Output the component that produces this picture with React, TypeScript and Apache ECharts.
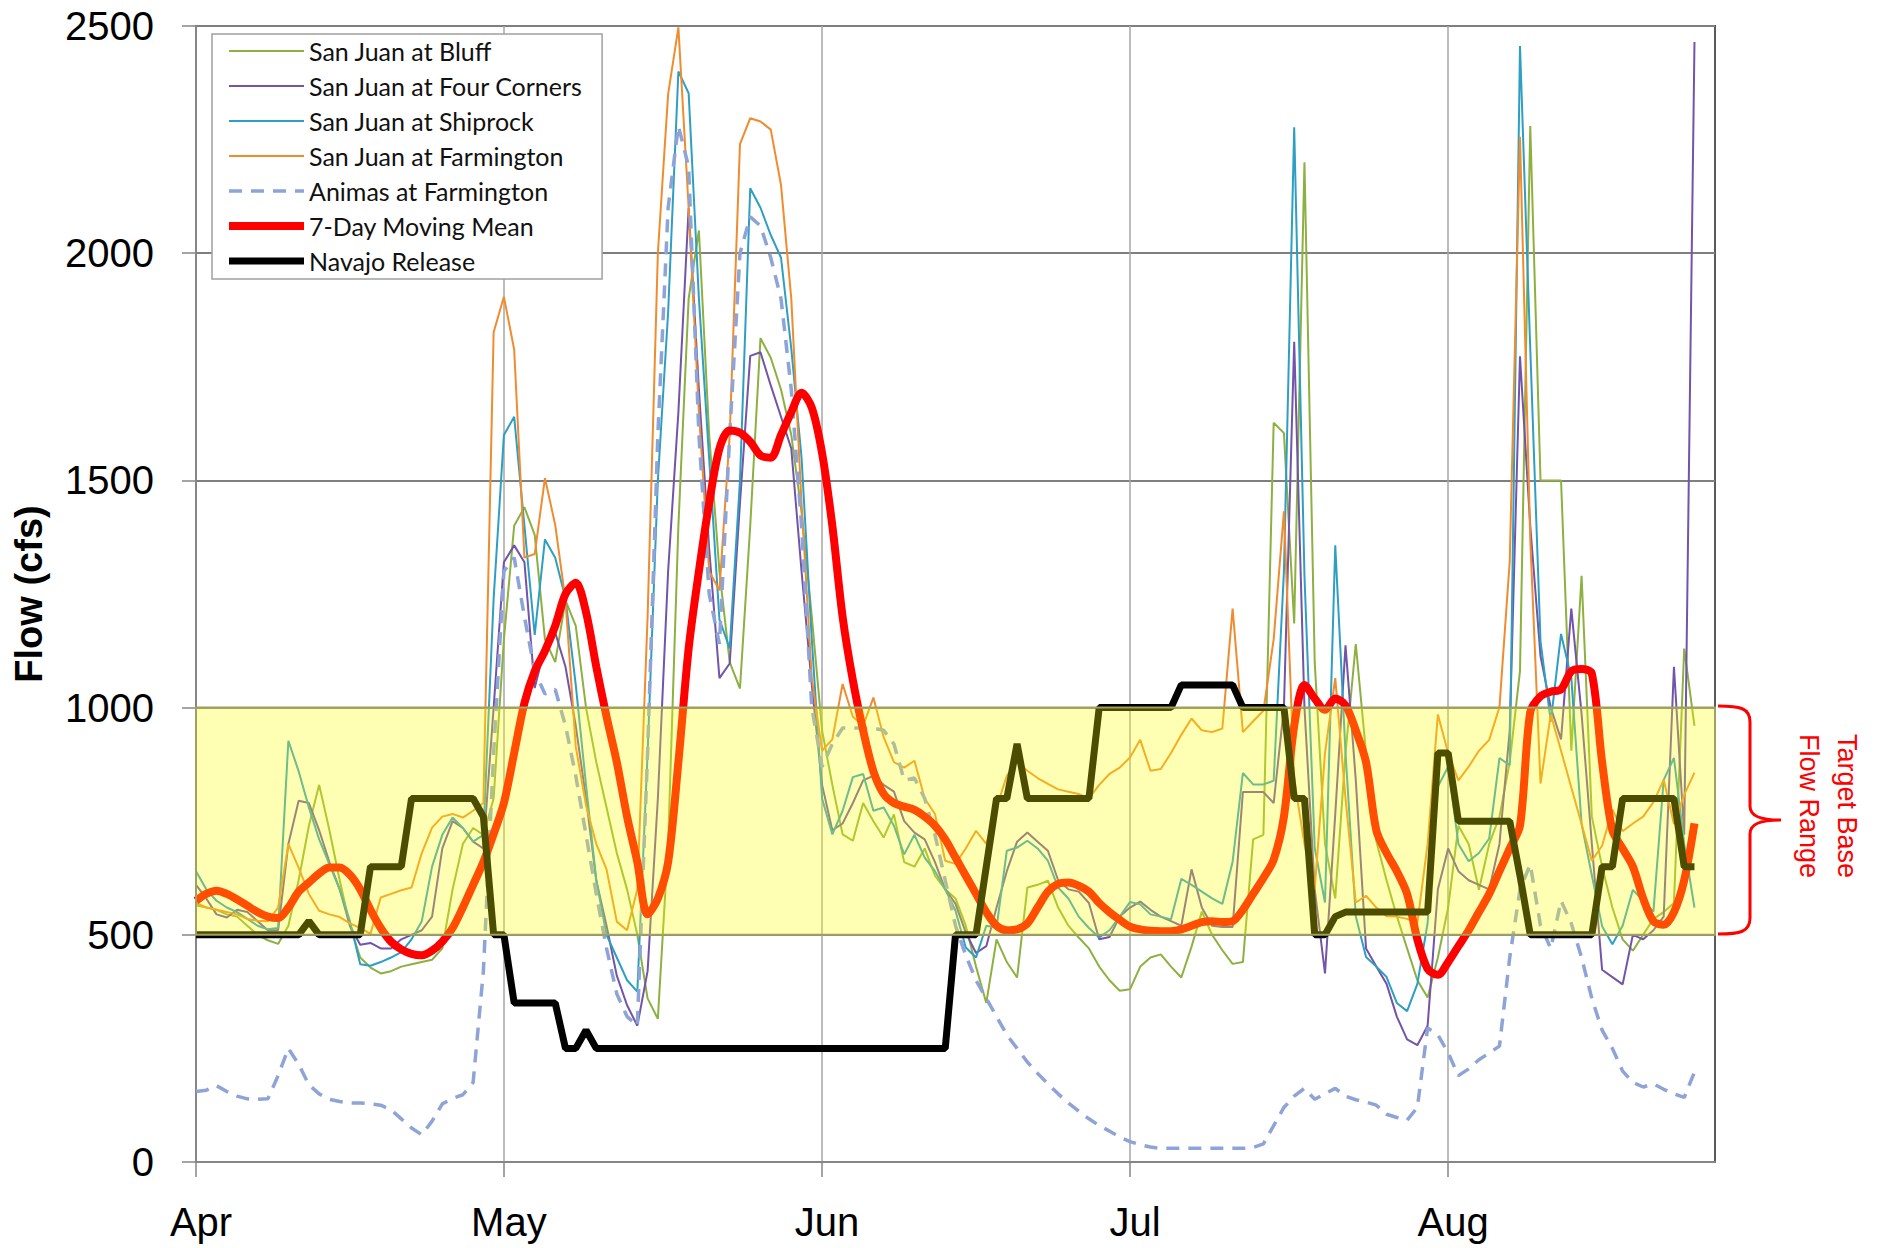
import React, { useEffect, useRef } from "react";
import * as echarts from "echarts";

// ---------- axis / category definitions ----------
const MONTHS = ["Apr", "May", "Jun", "Jul", "Aug"];
const DAYS_SHOWN = [30, 31, 30, 31, 27];
const Y_MIN = 0;
const Y_MAX = 2500;
const Y_STEP = 500;
const TARGET_LOW = 500;
const TARGET_HIGH = 1000;

// ---------- daily flows (cfs), Apr 1 onward ----------
const sanJuanBluff = [
  565, 560, 555, 545, 540, 520, 500, 488, 480, 520,
  620, 740, 830, 730, 620, 520, 450, 428, 415, 420,
  430, 435, 440, 445, 470, 600, 700, 735, 720, 800,
  1150, 1400, 1441, 1380, 1150, 1100, 1236, 1180, 1000, 880,
  780, 680, 600, 500, 360, 315, 700, 1400, 1900, 2050,
  1600, 1300, 1100, 1042, 1400, 1813, 1770, 1700, 1600, 1430,
  1200, 950, 830, 721, 707, 790, 750, 714, 765, 660,
  650, 690, 630, 600, 580, 520, 430, 350, 490, 440,
  406, 604, 610, 619, 560, 520, 494, 470, 430, 400,
  377, 380, 430, 450, 457, 430, 406, 474, 551, 500,
  466, 436, 440, 710, 720, 1627, 1604, 1185, 2200, 1100,
  700, 580, 900, 1140, 900, 706, 620, 541, 470, 400,
  362, 450, 560, 740, 700, 599, 700, 760, 880, 1081,
  2280, 1500, 1500, 1500, 905, 1290, 760, 650, 560, 490,
  465, 500, 535, 550, 570, 1130, 960,
];

const sanJuanFourCorners = [
  610, 580, 545, 538, 555, 550, 530, 510, 510, 700,
  795, 790, 730, 660, 600, 520, 478, 482, 470, 470,
  490, 500, 510, 540, 690, 750, 735, 705, 690, 1000,
  1320, 1357, 1320, 1043, 1133, 1165, 1090, 960, 800, 620,
  520, 410, 345, 300, 420, 800, 1300, 1650, 2100, 1700,
  1350, 1065, 1097, 1450, 1774, 1782, 1709, 1640, 1570, 1300,
  1050, 830, 730, 745, 790, 840, 850, 830, 815, 750,
  725, 710, 660, 600, 568, 505, 460, 475, 560, 640,
  705, 725, 705, 685, 620, 600, 595, 570, 490, 495,
  540, 560, 573, 555, 540, 530, 520, 644, 560, 520,
  517, 517, 814, 814, 814, 790, 1000, 1805, 1000, 600,
  415, 765, 1137, 841, 470, 430, 392, 320, 270, 257,
  300, 600, 690, 640, 620, 610, 600, 700, 950, 1773,
  1400, 1113, 1000, 930, 1218, 986, 700, 423, 407, 391,
  500, 490, 510, 540, 1090, 720, 2465,
];

const sanJuanShiprock = [
  640, 600, 575, 560, 550, 535, 520, 512, 515, 927,
  860, 780, 710, 655, 600, 530, 435, 432, 440, 450,
  462, 490, 530, 650, 720, 758, 735, 705, 720, 1240,
  1600, 1640, 1400, 1160, 1370, 1330, 1240, 1050, 830, 620,
  500, 450, 400, 375, 900, 1500, 1870, 2400, 2352, 1900,
  1548, 1194, 1130, 1500, 2143, 2100, 2040, 1990, 1790, 1550,
  1150, 800, 721, 773, 847, 854, 773, 780, 740, 677,
  720, 670, 640, 600, 553, 472, 450, 520, 516, 685,
  692, 707, 690, 663, 604, 580, 540, 515, 494, 510,
  540, 572, 567, 545, 540, 534, 623, 610, 595, 580,
  568, 661, 856, 831, 831, 839, 1300, 2277, 1290, 691,
  571, 1357, 900, 541, 451, 430, 407, 350, 332, 392,
  526, 826, 870, 700, 662, 680, 712, 889, 873, 2456,
  1790, 1146, 969, 1162, 1065, 744, 631, 519, 479, 520,
  599, 575, 551, 841, 889, 700, 560,
];

const sanJuanFarmington = [
  570, 560, 555, 550, 545, 535, 531, 530, 560, 700,
  648, 590, 553, 545, 539, 525, 515, 502, 582, 590,
  598, 604, 680, 736, 760, 766, 758, 773, 790, 1826,
  1904, 1788, 1330, 1338, 1505, 1402, 1236, 914, 785, 700,
  644, 529, 510, 600, 1200, 2000, 2350, 2497, 2100, 1650,
  1300, 1258, 1600, 2240, 2297, 2290, 2272, 2150, 1900, 1450,
  1065, 905, 930, 1052, 980, 960, 1022, 935, 880, 868,
  883, 800, 766, 663, 656, 690, 729, 700, 780, 850,
  880, 861, 845, 832, 820, 815, 810, 800, 830, 854,
  868, 890, 929, 861, 865, 900, 940, 976, 950, 946,
  954, 1218, 946, 970, 993, 1150, 1432, 841, 700, 601,
  900, 1065, 800, 571, 586, 560, 541, 540, 535, 526,
  700, 985, 900, 840, 870, 905, 929, 1001, 1322, 2256,
  1370, 833, 985, 905, 824, 744, 663, 696, 776, 728,
  745, 760, 792, 841, 744, 808, 857,
];

const animasFarmington = [
  155, 158, 168, 155, 145, 139, 138, 139, 190, 250,
  215, 170, 150, 138, 133, 130, 130, 128, 125, 115,
  95, 75, 60, 90, 128, 140, 148, 175, 420, 900,
  1300, 1330, 1200, 1080, 1030, 1040, 960, 850, 720, 590,
  470, 370, 320, 300, 900, 1600, 2100, 2280, 2190, 1600,
  1250, 1140, 1600, 2000, 2080, 2060, 1990, 1900, 1700, 1400,
  1000, 870, 920, 955, 955, 955, 955, 950, 920, 840,
  845, 800, 720, 620, 520, 455, 400, 360, 320, 280,
  250, 220, 195, 172, 150, 130, 112, 95, 80, 68,
  55, 45, 38, 33, 30, 30, 30, 30, 30, 30,
  30, 30, 30, 32, 40, 80, 120, 145, 162, 138,
  150, 162, 145, 137, 132, 125, 105, 98, 92, 120,
  295, 280, 240, 190, 205, 225, 240, 255, 450, 600,
  655, 520, 470, 575, 525, 450, 360, 290, 250, 200,
  175, 165, 172, 160, 150, 142, 198,
];

const sevenDayMean = [
  575, 590, 597, 590, 578, 564, 550, 540, 537, 560,
  595, 615, 635, 648, 648, 632, 600, 555, 515, 485,
  468, 458, 455, 465, 485, 515, 560, 610, 660, 722,
  790, 900, 1010, 1080, 1125, 1180, 1250, 1275, 1210, 1090,
  980, 880, 760, 660, 545, 580, 660, 880, 1130, 1300,
  1450, 1570, 1610, 1605, 1585, 1555, 1550, 1600, 1650, 1693,
  1660, 1560, 1400, 1200, 1060, 950, 860, 810, 790, 782,
  775, 760, 740, 710, 670, 630, 590, 550, 520, 510,
  512, 525, 560, 595, 612, 615, 608, 595, 570, 550,
  533, 518, 512, 509, 508, 508, 512, 520, 528, 530,
  528, 530, 555, 590, 625, 665, 760, 960, 1050, 1020,
  995, 1020, 1005, 950, 880, 730, 680, 640, 590, 490,
  425, 412, 440, 475, 510, 550, 590, 640, 690, 740,
  990, 1025, 1035, 1040, 1080, 1085, 1075, 880, 730, 690,
  650, 580, 530, 522, 550, 620, 745,
];

const navajoRelease = [
  500, 500, 500, 500, 500, 500, 500, 500, 500, 500,
  500, 530, 500, 500, 500, 500, 500, 650, 650, 650,
  650, 800, 800, 800, 800, 800, 800, 800, 760, 500,
  500, 350, 350, 350, 350, 350, 250, 250, 290, 250,
  250, 250, 250, 250, 250, 250, 250, 250, 250, 250,
  250, 250, 250, 250, 250, 250, 250, 250, 250, 250,
  250, 250, 250, 250, 250, 250, 250, 250, 250, 250,
  250, 250, 250, 250, 500, 500, 500, 650, 800, 800,
  920, 800, 800, 800, 800, 800, 800, 800, 1000, 1000,
  1000, 1000, 1000, 1000, 1000, 1000, 1050, 1050, 1050, 1050,
  1050, 1050, 1000, 1000, 1000, 1000, 1000, 800, 800, 500,
  500, 540, 550, 550, 550, 550, 550, 550, 550, 550,
  550, 900, 900, 750, 750, 750, 750, 750, 750, 630,
  500, 500, 500, 500, 500, 500, 500, 650, 650, 800,
  800, 800, 800, 800, 800, 650, 650,
];

const categories: string[] = [];
MONTHS.forEach((m, i) => {
  for (let d = 1; d <= DAYS_SHOWN[i]; d++) categories.push(`${m} ${d}`);
});
const isMonthStart = (_i: number, v: string) => / 1$/.test(v);

const AXIS_FONT = "'Liberation Sans', Arial, sans-serif";
const LEGEND_FONT = "Lato, 'Liberation Sans', sans-serif";

const BRACE =
  "M1718,706 C1740,706 1750,708 1750,722 L1750,806 C1750,816 1760,820 1781,820 C1760,820 1750,824 1750,834 L1750,918 C1750,932 1740,934 1718,934";

export default function App() {
  const ref = useRef<HTMLDivElement | null>(null);

  useEffect(() => {
    if (!ref.current) return;
    echarts.graphic.registerShape("brace", echarts.graphic.extendPath(BRACE, {}));
    const chart = echarts.init(ref.current, null, { renderer: "svg" });

    const thin = (name: string, data: number[], color: string) => ({
      name,
      type: "line",
      data,
      symbol: "none",
      showSymbol: false,
      lineStyle: { color, width: 2 },
      itemStyle: { color },
      z: 2,
    });

    chart.setOption({
      animation: false,
      backgroundColor: "#ffffff",
      grid: {
        left: 196,
        right: 166,
        top: 26,
        bottom: 86,
        containLabel: false,
        outerBoundsMode: "none",
        show: true,
        borderColor: "#5a5a5a",
        borderWidth: 2,
        backgroundColor: "transparent",
      },
      legend: {
        orient: "vertical",
        left: 212,
        top: 34,
        itemWidth: 75,
        itemHeight: 14,
        itemGap: 9,
        padding: [4, 19, 5, 13],
        backgroundColor: "#ffffff",
        borderColor: "#a0a0a0",
        borderWidth: 1.5,
        itemStyle: { opacity: 0, borderWidth: 0 },
        lineStyle: { width: "inherit" },
        textStyle: { fontFamily: LEGEND_FONT, fontSize: 25, color: "#111", lineHeight: 26 },
        data: [
          "San Juan at Bluff",
          "San Juan at Four Corners",
          "San Juan at Shiprock",
          "San Juan at Farmington",
          "Animas at Farmington",
          "7-Day Moving Mean",
          "Navajo Release",
        ],
      },
      xAxis: {
        type: "category",
        data: categories,
        boundaryGap: false,
        axisLine: { show: true, lineStyle: { color: "#868686", width: 2 } },
        axisTick: {
          show: true,
          interval: isMonthStart,
          length: 15,
          lineStyle: { color: "#868686", width: 1.5 },
        },
        axisLabel: {
          interval: isMonthStart,
          formatter: (v: string) => v.split(" ")[0],
          fontFamily: AXIS_FONT,
          fontSize: 40,
          color: "#000",
          margin: 40,
          padding: [0, 0, 0, 10],
        },
        splitLine: {
          show: true,
          interval: isMonthStart,
          lineStyle: { color: "#a6a6a6", width: 1.5 },
        },
      },
      yAxis: {
        type: "value",
        min: Y_MIN,
        max: Y_MAX,
        interval: Y_STEP,
        name: "Flow (cfs)",
        nameLocation: "middle",
        nameGap: 148,
        nameTextStyle: { fontFamily: AXIS_FONT, fontSize: 38, fontWeight: "bold", color: "#000" },
        axisLine: { show: true, lineStyle: { color: "#868686", width: 2 } },
        axisTick: { show: true, length: 14, lineStyle: { color: "#868686", width: 1.5 } },
        axisLabel: {
          fontFamily: AXIS_FONT,
          fontSize: 40,
          color: "#000",
          margin: 42,
          formatter: (v: number) => String(v),
        },
        splitLine: { show: true, lineStyle: { color: "#7f7f7f", width: 2 } },
      },
      series: [
        thin("San Juan at Bluff", sanJuanBluff, "#8db040"),
        thin("San Juan at Four Corners", sanJuanFourCorners, "#7254a8"),
        thin("San Juan at Shiprock", sanJuanShiprock, "#2e9fc2"),
        thin("San Juan at Farmington", sanJuanFarmington, "#f08c2e"),
        {
          name: "Animas at Farmington",
          type: "line",
          data: animasFarmington,
          symbol: "none",
          showSymbol: false,
          lineStyle: { color: "#8ea3d6", width: 3.5, type: [13, 9] },
          itemStyle: { color: "#8ea3d6" },
          z: 2,
        },
        {
          name: "7-Day Moving Mean",
          type: "line",
          data: sevenDayMean,
          symbol: "none",
          showSymbol: false,
          smooth: 0.3,
          lineStyle: { color: "#ff0000", width: 8 },
          itemStyle: { color: "#ff0000" },
          z: 3,
        },
        {
          name: "Navajo Release",
          type: "line",
          data: navajoRelease,
          symbol: "none",
          showSymbol: false,
          lineStyle: { color: "#000000", width: 7 },
          itemStyle: { color: "#000000" },
          z: 4,
          markArea: {
            silent: true,
            z: 10,
            itemStyle: {
              color: "rgba(255,255,5,0.3)",
              borderColor: "#a0a060",
              borderWidth: 2,
            },
            data: [[{ yAxis: TARGET_LOW }, { yAxis: TARGET_HIGH }]],
          },
        },
      ],
      graphic: [
        {
          type: "brace",
          x: 0,
          y: 0,
          silent: true,
          style: { stroke: "#ff0000", fill: "none", lineWidth: 3 },
        },
        {
          type: "text",
          x: 1828,
          y: 806,
          rotation: -Math.PI / 2,
          silent: true,
          style: {
            text: "Target Base\nFlow Range",
            fontFamily: AXIS_FONT,
            fontSize: 27,
            lineHeight: 38,
            fill: "#ff0000",
            align: "center",
            verticalAlign: "middle",
          },
        },
      ],
    });

    return () => chart.dispose();
  }, []);

  return (
    <div
      ref={ref}
      style={{ position: "absolute", left: 0, top: 0, width: 1881, height: 1248 }}
    />
  );
}
